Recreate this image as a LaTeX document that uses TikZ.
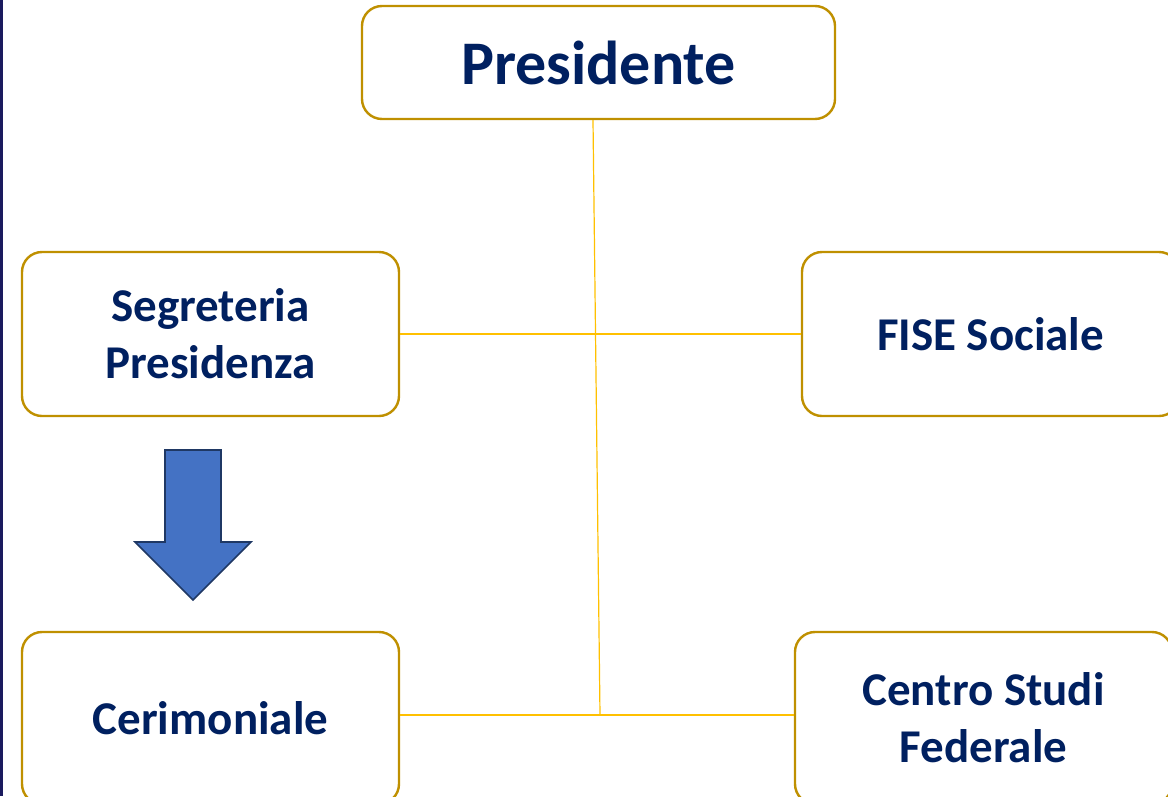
\documentclass[tikz,border=0pt]{standalone}
\usepackage{fontspec}
\setmainfont{Carlito}
\usepackage{tikz}
\usepackage{xcolor}
\usetikzlibrary{positioning, arrows.meta}
\definecolor{orgnavy}{HTML}{002060}
\definecolor{orggold}{HTML}{BF9000}
\definecolor{orgline}{HTML}{FFC000}
\definecolor{orgblue}{HTML}{4472C4}
\definecolor{orgedge}{HTML}{1F3864}
\definecolor{orgbar}{HTML}{1A1A5E}
\tikzset{
    orgbox/.style={rectangle, rounded corners=20pt, draw=orggold, line width=2.4pt, fill=white,
        minimum width=377pt, minimum height=164pt, align=center, text=orgnavy,
        font=\fontsize{47}{57}\selectfont\bfseries},
    topbox/.style={orgbox, minimum width=473pt, minimum height=113pt,
        font=\fontsize{62}{70}\selectfont\bfseries},
    lowbox/.style={orgbox, minimum height=172pt},
    orglink/.style={draw=orgline, line width=1.2pt}
}
\begin{document}
\begin{tikzpicture}[x=1pt, y=-1pt]
    \useasboundingbox (0,0) rectangle (1168,796);
    \clip (0,0) rectangle (1168,796);
    \fill[orgbar] (0,0) rectangle (2.5,796);
    % links first, boxes on top
    \coordinate (junc) at (600,715);
    \node[topbox] (pres) at (598.5,62.5) {Presidente};
    \node[orgbox] (segr) at (210.5,334) {Segreteria\\Presidenza};
    \node[orgbox] (fise) at (990.5,334) {FISE Sociale};
    \node[lowbox] (cer) at (210.5,718) {Cerimoniale};
    \node[lowbox] (centro) at (983.5,718) {Centro Studi\\Federale};
    \draw[orglink] ([xshift=-5.5pt]pres.south) -- (junc);
    \draw[orglink] (segr.east) -- (fise.west);
    \draw[orglink] (cer.east |- junc) -- (centro.west |- junc);
    % block arrow
    \draw[fill=orgblue, draw=orgedge, line width=1.6pt, line join=miter]
        (165,450) -- (221,450) -- (221,542) -- (251,542) -- (193,600)
        -- (135,542) -- (165,542) -- cycle;
\end{tikzpicture}
\end{document}
